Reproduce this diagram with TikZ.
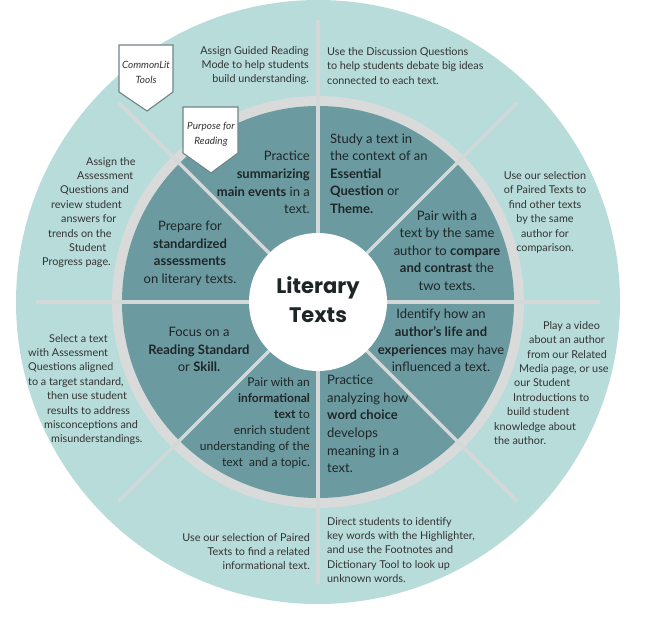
\documentclass[tikz,border=0pt]{standalone}
\usepackage{fontspec}
\usetikzlibrary{calc}
\setmainfont{Lato}
\newfontfamily\titlefont{Poppins}
\definecolor{lightteal}{HTML}{B7DCDA}
\definecolor{ringgray}{HTML}{D9DADA}
\definecolor{darkteal}{HTML}{6B9BA1}
\definecolor{divgray}{HTML}{D4D8D8}
\definecolor{txt}{HTML}{333333}
\definecolor{dtxt}{HTML}{1E2526}
\definecolor{tagline}{HTML}{6F8486}
\tikzset{
  outertext/.style={inner sep=0pt, text=txt, font=\fontsize{10.8}{14.4}\selectfont},
  innertext/.style={inner sep=0pt, text=dtxt, font=\fontsize{13}{17.6}\selectfont},
  divider/.style={draw=divgray, line width=3.5pt},
  tagbox/.style={draw=tagline, fill=white, line width=1.1pt, line join=miter},
  tagtext/.style={inner sep=0pt, text=txt, align=center, font=\fontsize{10}{15}\selectfont\itshape},
}
\begin{document}
\begin{tikzpicture}[x=1pt,y=-1pt]
\useasboundingbox (0,0) rectangle (652,618);
\coordinate (C) at (318,302);
% rings
\fill[lightteal] (C) circle[radius=302pt];
\fill[ringgray] (C) circle[radius=206pt];
\fill[darkteal] (C) circle[radius=196pt];
% dividers
\foreach \a in {0,45,...,315}
  \draw[divider] (C) -- ($(C)+(\a:282pt)$);
% centre
\fill[white] (C) circle[radius=69pt];
\node[inner sep=0pt, align=center, text=dtxt, font=\fontsize{21}{29}\titlefont\bfseries] (title) at (318,300) {Literary\\Texts};

% tags
\draw[tagbox] (119,45) -- (173,45) -- (173,92) -- (147,111) -- (119,92) -- cycle;
\node[tagtext] (tag1) at (146,72.5) {CommonLit\\Tools};
\draw[tagbox] (183,107) -- (238,107) -- (238,153) -- (211,173) -- (183,153) -- cycle;
\node[tagtext] (tag2) at (211,134) {Purpose for\\Reading};

% outer ring texts
\node[outertext, anchor=east, align=right] (o1) at (309,65.5) {Assign Guided Reading\\Mode to help students\\build understanding.};
\node[outertext, anchor=west, align=left] (o2) at (327,66) {Use the Discussion Questions\\to help students debate big ideas\\connected to each text.};
\node[outertext, align=center] (o3) at (545,212.5) {Use our selection\\of Paired Texts to\\find other texts\\by the same\\author for\\comparison.};
\node[outertext, anchor=west, align=left] (o4) at (494,383) {\hspace*{49pt}Play a video\\\hspace*{35pt}about an author\\\hspace*{33pt}from our Related\\\hspace*{25pt}Media page, or use\\\hspace*{20pt}our Student\\\hspace*{19pt}Introductions to\\\hspace*{13pt}build student\\knowledge about\\the author.};
\node[outertext, anchor=west, align=left] (o5) at (327,550) {Direct students to identify\\key words with the Highlighter,\\and use the Footnotes and\\Dictionary Tool to look up\\unknown words.};
\node[outertext, anchor=east, align=right] (o6) at (310,551.5) {Use our selection of Paired\\Texts to find a related\\informational text.};
\node[outertext, anchor=west, align=left] (o7) at (28,389.5) {\hspace*{21pt}Select a text\\with Assessment\\Questions aligned\\to a target standard,\\\hspace*{19pt}then use student\\\hspace*{19pt}results to address\\\hspace*{16pt}misconceptions and\\\hspace*{23pt}misunderstandings.};
\node[outertext, anchor=west, align=left] (o8) at (42,212.5) {\hspace*{44pt}Assign the\\\hspace*{35pt}Assessment\\\hspace*{18pt}Questions and\\\hspace*{9pt}review student\\\hspace*{19pt}answers for\\\hspace*{6pt}trends on the\\\hspace*{27pt}Student\\Progress page.};

% inner sector texts
\node[innertext, anchor=east, align=right] (a) at (310,182.5) {Practice\\\textbf{summarizing}\\\textbf{main events} in a\\text.};
\node[innertext, anchor=west, align=left] (b) at (330,173.5) {Study a text in\\the context of an\\\textbf{Essential}\\\textbf{Question} or\\\textbf{Theme.}};
\node[innertext, align=center] (c) at (447,250.5) {Pair with a\\text by the same\\author to \textbf{compare}\\\textbf{and contrast} the\\two texts.};
\node[innertext, align=center] (d) at (441,340.5) {Identify how an\\\textbf{author’s life and}\\\textbf{experiences} may have\\influenced a text.};
\node[innertext, anchor=west, align=left] (e) at (327,424) {Practice\\analyzing how\\\textbf{word choice}\\develops\\meaning in a\\text.};
\node[innertext, anchor=east, align=right, font=\fontsize{12}{16}\selectfont] (f) at (310,423) {Pair with an\\\textbf{informational}\\\textbf{text} to\\enrich student\\understanding of the\\text\ \ and a topic.};
\node[innertext, align=center] (g) at (199,349.5) {Focus on a\\\textbf{Reading Standard}\\or \textbf{Skill.}};
\node[innertext, align=center] (h) at (190,253.5) {Prepare for\\\textbf{standardized}\\\textbf{assessments}\\on literary texts.};
\end{tikzpicture}
\end{document}
